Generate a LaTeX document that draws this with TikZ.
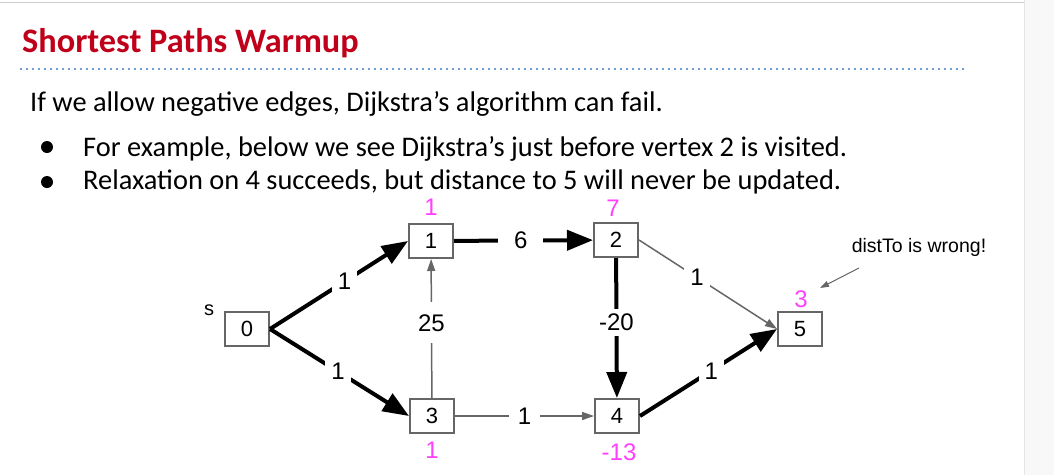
\documentclass[tikz,border=0pt]{standalone}
\usepackage{fontspec}
\setmainfont{Carlito}
\newfontfamily\arialfont{Liberation Sans}
\usetikzlibrary{positioning,arrows.meta}
\definecolor{slred}{HTML}{C0001A}
\definecolor{sldot}{HTML}{3A7CC4}
\definecolor{slpink}{HTML}{FF40FF}
\definecolor{slgray}{HTML}{666666}
\definecolor{slrule}{HTML}{CCCCCC}
\definecolor{slside}{HTML}{F8F8F8}

\begin{document}
\begin{tikzpicture}[x=1pt,y=-1pt,
  vbox/.style={draw=slgray,line width=2pt,minimum width=44pt,minimum height=34pt,inner sep=0pt,font=\arialfont\fontsize{22}{24}\selectfont},
  dist/.style={text=slpink,anchor=base,inner sep=0pt,font=\arialfont\fontsize{24}{26}\selectfont},
  elab/.style={fill=white,text=black,inner sep=6pt,font=\arialfont\fontsize{24}{26}\selectfont},
  heavy/.style={line width=4pt,-{Triangle[length=26pt,width=20pt]}},
  light/.style={slgray,line width=1.5pt,-{Triangle[length=12pt,width=8pt]}},
  bodytext/.style={anchor=base west,inner sep=0pt,font=\fontsize{28.4}{32}\selectfont},
  bulletdot/.style={circle,fill=black,inner sep=0pt,minimum size=12pt}]
  \useasboundingbox (0,0) rectangle (1054,475);
  % slide frame
  \fill[slside] (1024,0) rectangle (1054,475);
  \draw[slrule!50,line width=1pt] (1024,0) -- (1024,475);
  \draw[slrule,line width=1.5pt] (0,2.5) -- (1024,2.5);
  % title and rule
  \node[anchor=base west,inner sep=0pt,text=slred,font=\bfseries\fontsize{34.3}{40}\selectfont] (title) at (22,52) {Shortest Paths Warmup};
  \draw[sldot,line width=2.3pt,line cap=round,dash pattern=on 0pt off 6pt] (21,69) -- (968,69);
  % text
  \node[bodytext] (intro) at (30,111) {If we allow negative edges, Dijkstra’s algorithm can fail.};
  \node[bulletdot] (b1) at (47,147) {};
  \node[bodytext] (t1) at (83,156) {For example, below we see Dijkstra’s just before vertex 2 is visited.};
  \node[bulletdot] (b2) at (47,182) {};
  \node[bodytext] (t2) at (83,189) {Relaxation on 4 succeeds, but distance to 5 will never be updated.};

  % graph
  \node[vbox] (n0) at (247,329) {0};
  \node[vbox] (n1) at (431,241) {1};
  \node[vbox] (n2) at (616,240) {2};
  \node[vbox] (n3) at (432,416) {3};
  \node[vbox] (n4) at (617,416) {4};
  \node[vbox] (n5) at (800,329) {5};
  \node[font=\arialfont\fontsize{20}{22}\selectfont] (src) at (209,310) {s};

  \node[dist] (d1) at (431,215) {1};
  \node[dist] (d2) at (613,216) {7};
  \node[dist] (d5) at (801,307) {3};
  \node[dist] (d3) at (432,458) {1};
  \node[dist] (d4) at (619,460) {-13};

  \draw[light] (n3) -- node[elab,pos=0.54,inner ysep=12pt] {25} (n1);
  \draw[light] (n2.east) -- node[elab,pos=0.42] {1} (n5.west);
  \draw[light] (n3) -- node[elab,inner xsep=9pt] {1} (n4);
  \draw[heavy] (n0.east) -- node[elab,pos=0.54] {1} (n1.west);
  \draw[heavy] (n0.east) -- node[elab,pos=0.49] {1} (n3.west);
  \draw[heavy] (n1) -- node[elab,pos=0.48,inner xsep=16pt] {6} (n2);
  \draw[heavy] (n2) -- node[elab,pos=0.46,inner sep=5pt] {-20} (n4);
  \draw[heavy] (n4.east) -- node[elab,pos=0.52] {1} (n5.west);

  % annotation
  \node[font=\arialfont\fontsize{19.5}{22}\selectfont] (wrong) at (919,247) {distTo is wrong!};
  \coordinate (tail) at (859,268);
  \coordinate (tip) at (820,288);
  \draw[slgray,line width=1pt,-{Triangle[length=9pt,width=6pt]}] (tail) -- (tip);
\end{tikzpicture}
\end{document}
